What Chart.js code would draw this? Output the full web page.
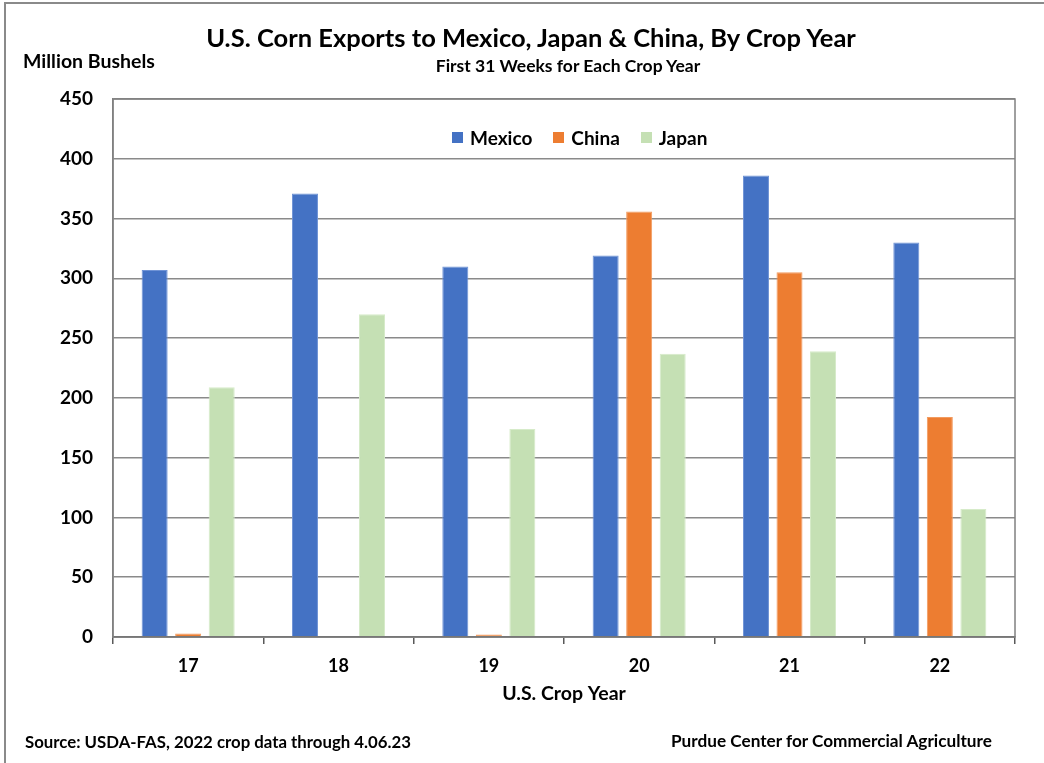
<!DOCTYPE html>
<html>
<head>
<meta charset="utf-8">
<script src="https://cdn.jsdelivr.net/npm/chart.js@4.4.0/dist/chart.umd.min.js"></script>
<style>
  html, body { margin: 0; padding: 0; background: #fff; }
  #wrap { position: relative; width: 1044px; height: 763px; overflow: hidden; font-family: Lato, "Open Sans", sans-serif; font-weight: bold; color: #000; }
  #frame { position: absolute; left: 4px; top: 2px; width: 1100px; height: 800px; border-left: 2px solid #8a8a8a; border-top: 2px solid #8a8a8a; pointer-events: none; }
  canvas { position: absolute; left: 0; top: 0; }
  .t { position: absolute; white-space: nowrap; line-height: 1; }
  #legend { position: absolute; left: 452px; top: 127px; height: 20px; display: flex; align-items: center; font-size: 19px; line-height: 1; }
  #legend .item { display: flex; align-items: center; margin-right: 21px; }
  #legend .box { width: 11px; height: 11px; margin-right: 7px; }
</style>
</head>
<body>
<div id="wrap">
  <canvas id="c" width="1044" height="763"></canvas>
  <div id="frame"></div>
  <div class="t" id="title" style="left:531px; top:25px; transform:translateX(-50%); font-size:25.5px;">U.S. Corn Exports to Mexico, Japan &amp; China, By Crop Year</div>
  <div class="t" id="sub" style="left:568px; top:57px; transform:translateX(-50%); font-size:17.5px;">First 31 Weeks for Each Crop Year</div>
  <div class="t" id="ylab" style="left:23px; top:51px; font-size:19.5px;">Million Bushels</div>
  <div class="t" id="src" style="left:25px; top:734px; font-size:16.8px;">Source: USDA-FAS, 2022 crop data through 4.06.23</div>
  <div class="t" id="pur" style="left:671px; top:732px; font-size:17.2px;">Purdue Center for Commercial Agriculture</div>
  <div id="legend"></div>
</div>
<script>
const categories = ["17", "18", "19", "20", "21", "22"];
const mexico = [307, 371, 310, 319, 386, 330];
const china  = [3, 0, 2, 356, 305, 184];
const japan  = [209, 270, 174, 237, 239, 107];
const yTicks = [0, 50, 100, 150, 200, 250, 300, 350, 400, 450];

const FONT = 'Lato, "Open Sans", sans-serif';

const framePlugin = {
  id: 'frame',
  afterDatasetsDraw(chart) {
    const a = chart.chartArea, ctx = chart.ctx;
    ctx.save();
    ctx.strokeStyle = '#808080';
    ctx.lineWidth = 1.5;
    ctx.strokeRect(a.left, a.top, a.right - a.left, a.bottom - a.top);
    ctx.restore();
  }
};

const chart = new Chart(document.getElementById('c'), {
  type: 'bar',
  data: {
    labels: categories,
    datasets: [
      { label: 'Mexico', data: mexico, backgroundColor: '#4472C4', borderColor: '#6f93d6', borderWidth: 1 },
      { label: 'China',  data: china,  backgroundColor: '#ED7D31', borderColor: '#f29b5f', borderWidth: 1 },
      { label: 'Japan',  data: japan,  backgroundColor: '#C5E0B4', borderColor: '#d6ebc9', borderWidth: 1 }
    ]
  },
  options: {
    responsive: false,
    animation: false,
    devicePixelRatio: 1,
    layout: { padding: { left: 0, right: 29, top: 99, bottom: 58 } },
    datasets: { bar: { categoryPercentage: 0.669, barPercentage: 0.776 } },
    plugins: {
      title: { display: false },
      tooltip: { enabled: false },
      legend: { display: false }
    },
    scales: {
      x: {
        offset: true,
        grid: { display: true, drawOnChartArea: false, drawTicks: true, tickLength: 7, color: '#595959', lineWidth: 1.5 },
        border: { display: true, color: '#595959', width: 1.5 },
        ticks: { color: '#000', padding: 11, font: { family: FONT, size: 18, weight: 'bold' } },
        title: { display: true, text: 'U.S. Crop Year', color: '#000', padding: { top: 4, bottom: 0 }, font: { family: FONT, size: 19.5, weight: 'bold' } },
        afterFit(scale) { scale.height = 68; }
      },
      y: {
        min: 0, max: 450,
        afterBuildTicks(scale) { scale.ticks = yTicks.map(v => ({ value: v })); },
        grid: { color: '#8a8a8a', lineWidth: 1.5, drawTicks: false },
        border: { display: true, color: '#808080', width: 1.5 },
        ticks: { color: '#000', padding: 20, font: { family: FONT, size: 19, weight: 'bold' } },
        afterFit(scale) { scale.width = 113; }
      }
    }
  },
  plugins: [framePlugin]
});

// HTML legend built from the chart's datasets
const legendEl = document.getElementById('legend');
chart.data.datasets.forEach(ds => {
  const item = document.createElement('div');
  item.className = 'item';
  const box = document.createElement('div');
  box.className = 'box';
  box.style.background = ds.backgroundColor;
  const txt = document.createElement('span');
  txt.textContent = ds.label;
  item.appendChild(box);
  item.appendChild(txt);
  legendEl.appendChild(item);
});
</script>
</body>
</html>
